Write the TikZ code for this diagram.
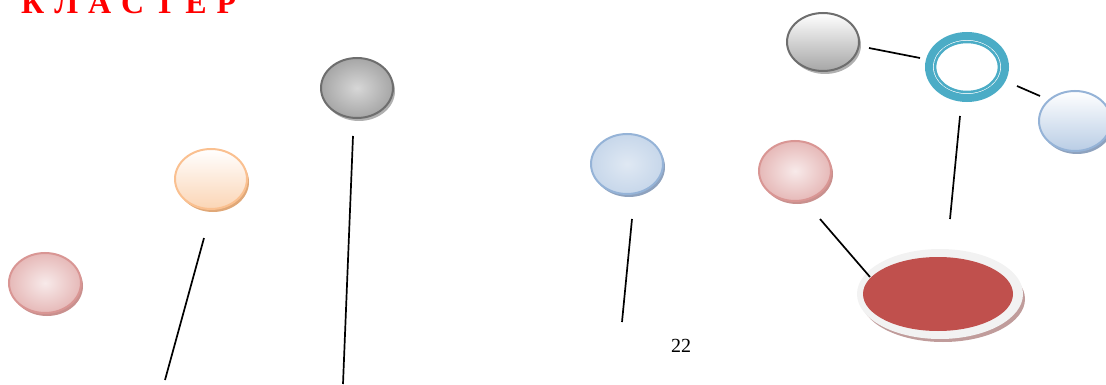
\documentclass[tikz,border=0pt]{standalone}
\usepackage{fontspec}
\setmainfont{Liberation Serif}
\usetikzlibrary{shapes.geometric,shadows}
\definecolor{pinkB}{HTML}{D99694}
\definecolor{pinkF}{HTML}{E6B9B8}
\definecolor{pinkS}{HTML}{C9908E}
\definecolor{orB}{HTML}{FAC090}
\definecolor{orF}{HTML}{FBD5B5}
\definecolor{orS}{HTML}{E0A878}
\definecolor{grB}{HTML}{6E6E6E}
\definecolor{grF}{HTML}{A6A6A6}
\definecolor{grS}{HTML}{B0B0B0}
\definecolor{blB}{HTML}{95B3D7}
\definecolor{blF}{HTML}{B9CDE5}
\definecolor{blS}{HTML}{8EA2BE}
\definecolor{teal}{HTML}{4BACC6}
\definecolor{redF}{HTML}{C0504D}
\definecolor{ringF}{HTML}{F2F2F2}
\definecolor{ringS}{HTML}{C09C9B}
\tikzset{
  blob/.style={ellipse, inner sep=0pt, minimum width=72pt, minimum height=60pt, line width=2pt},
  pinkblob/.style={blob, draw=pinkB, inner color=pinkF!30, outer color=pinkF,
     drop shadow={shadow xshift=2pt, shadow yshift=-3pt, fill=pinkS, opacity=1}},
  orblob/.style={blob, draw=orB, top color=white, bottom color=orF,
     drop shadow={shadow xshift=2pt, shadow yshift=-3pt, fill=orS, opacity=1}},
  grblob/.style={blob, draw=grB, inner color=grF!45, outer color=grF,
     drop shadow={shadow xshift=2pt, shadow yshift=-3pt, fill=grS, opacity=1}},
  grblobv/.style={blob, draw=grB, top color=white, bottom color=grF,
     drop shadow={shadow xshift=2pt, shadow yshift=-3pt, fill=grS, opacity=1}},
  blblob/.style={blob, draw=blB, inner color=blF!45, outer color=blF!80,
     drop shadow={shadow xshift=2pt, shadow yshift=-3pt, fill=blS, opacity=1}},
  blblobv/.style={blob, draw=blB, top color=white, bottom color=blF,
     drop shadow={shadow xshift=2pt, shadow yshift=-3pt, fill=blS, opacity=1}},
  conn/.style={line width=1.7pt, black},
  title/.style={text=red, font=\fontsize{32}{34}\selectfont\bfseries\addfontfeature{LetterSpace=6}, inner sep=0pt, anchor=base west},
}
\begin{document}
\begin{tikzpicture}[x=1pt,y=-1pt]
\useasboundingbox (0,0) rectangle (1106,385);
\node[title] (t) at (21,14) {К Л А С Т Е Р};
% ellipses
\node[pinkblob] (p1) at (45,283) {};
\node[orblob] (o1) at (211,179) {};
\node[grblob] (g1) at (357,88) {};
\node[blblob] (b1) at (627,164) {};
\node[pinkblob] (p2) at (795,171) {};
\node[grblobv, minimum height=58pt] (g2) at (823,42) {};
\node[blblobv, minimum height=60pt] (b2) at (1075,121) {};
% teal double ring
\node[ellipse, draw=teal, line width=8pt, minimum width=76pt, minimum height=62pt, inner sep=0pt, fill=white] (tr) at (967,67) {};
\node[ellipse, draw=teal, line width=2.5pt, minimum width=64pt, minimum height=50pt, inner sep=0pt] (tri) at (967,67) {};
% big red ellipse
\node[ellipse, fill=ringS, minimum width=164pt, minimum height=86pt, inner sep=0pt] (rs) at (943,299) {};
\node[ellipse, fill=ringF, minimum width=166pt, minimum height=90pt, inner sep=0pt] (rr) at (940,294) {};
\node[ellipse, fill=redF, minimum width=150pt, minimum height=74pt, inner sep=0pt] (rd) at (938,294) {};
% connector coordinates
\coordinate (a1) at (165,380); \coordinate (a2) at (204,238);
\coordinate (c1) at (343,384); \coordinate (c2) at (353,136);
\coordinate (d1) at (622,322); \coordinate (d2) at (632,219);
\coordinate (e1) at (820,219); \coordinate (e2) at (870,277);
\coordinate (f1) at (950,219); \coordinate (f2) at (960,116);
\coordinate (h1) at (869,48); \coordinate (h2) at (920,58);
\coordinate (k1) at (1017,86); \coordinate (k2) at (1040,96);
\draw[conn] (a1) -- (a2);
\draw[conn] (c1) -- (c2);
\draw[conn] (d1) -- (d2);
\draw[conn] (e1) -- (e2);
\draw[conn] (f1) -- (f2);
\draw[conn] (h1) -- (h2);
\draw[conn] (k1) -- (k2);
\node[font=\fontsize{20}{22}\selectfont, inner sep=0pt] (num) at (681,346) {22};
\end{tikzpicture}
\end{document}
